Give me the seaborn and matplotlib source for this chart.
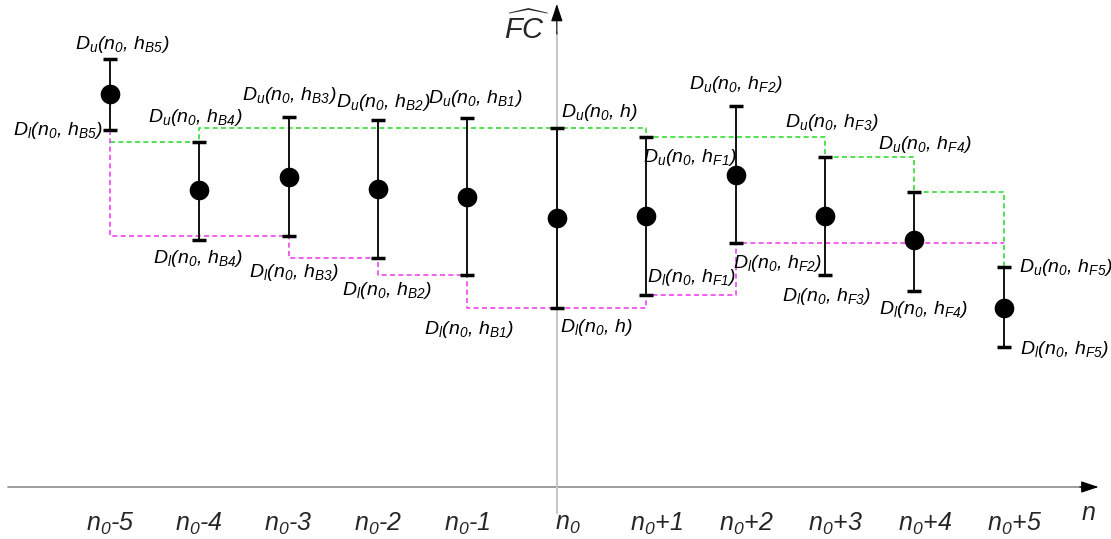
import numpy as np
import pandas as pd
import matplotlib
matplotlib.use("Agg")
import matplotlib.pyplot as plt
import seaborn as sns

# ---------------- data ----------------
positions = [-5, -4, -3, -2, -1, 0, 1, 2, 3, 4, 5]
tick_suffix = ["-5", "-4", "-3", "-2", "-1", "", "+1", "+2", "+3", "+4", "+5"]
h_subs = ["B5", "B4", "B3", "B2", "B1", "", "F1", "F2", "F3", "F4", "F5"]
upper = [42.8, 34.5, 37.0, 36.7, 36.9, 35.9, 35.0, 38.1, 33.0, 29.5, 22.0]
lower = [35.7, 24.7, 25.1, 22.9, 21.2, 17.9, 19.2, 24.4, 21.2, 19.6, 14.0]
center = [39.3, 29.7, 31.0, 29.8, 29.0, 26.9, 27.1, 31.2, 27.1, 24.7, 17.9]

# step paths (x positions and index of the bound used)
green_x = [-5, -4, -4, 1, 1, 3, 3, 4, 4, 5, 5]
green_idx = [1, 1, 5, 5, 6, 6, 8, 8, 9, 9, 10]
magenta_x = [-5, -5, -3, -3, -2, -2, -1, -1, 1, 1, 2, 2, 5]
magenta_idx = [0, 2, 2, 3, 3, 4, 4, 5, 5, 6, 6, 7, 7]

# label offsets in pixels (dx, dy) relative to bar ends
du_off = [(12, 15), (-4, 25), (0, 22), (5, 18), (8, 20), (43, 16), (44, -20),
          (0, 22), (7, 35), (10, 48), (62, 0)]
dl_off = [(-52, 0), (-1, -18), (5, -36), (9, -32), (1, -54), (39, -19), (45, 17),
          (42, -20), (2, -21), (9, -18), (61, -3)]

df = pd.DataFrame({"pos": positions, "center": center, "upper": upper, "lower": lower})

# ---------------- style ----------------
sns.set_theme(style="white")
plt.rcParams["font.family"] = ["Liberation Sans", "DejaVu Sans"]
plt.rcParams["mathtext.fontset"] = "custom"
plt.rcParams["mathtext.it"] = "Liberation Sans:italic"
plt.rcParams["mathtext.rm"] = "Liberation Sans:italic"
plt.rcParams["mathtext.sf"] = "Liberation Sans:italic"
plt.rcParams["mathtext.bf"] = "Liberation Sans:italic:bold"

fig = plt.figure(figsize=(11.11, 5.39), dpi=100)
ax = fig.add_axes([0, 0, 1, 1])
ax.set_xlim(-6.23, 6.20)
ax.set_ylim(-5.2, 48.7)
ax.axis("off")

# axes with arrows
ax.plot([-6.14, 6.0], [0, 0], color="#8c8c8c", lw=1.2, zorder=1)
ax.annotate("", xy=(6.06, 0), xytext=(5.85, 0),
            arrowprops=dict(arrowstyle="-|>,head_length=0.9,head_width=0.3",
                            color="black", lw=0.8, shrinkA=0, shrinkB=0))
ax.plot([0, 0], [-2.6, 45.5], color="#c8c8c8", lw=1.5, zorder=1)
ax.annotate("", xy=(0, 48.3), xytext=(0, 45.3),
            arrowprops=dict(arrowstyle="-|>,head_length=0.9,head_width=0.3",
                            color="black", lw=0.8, shrinkA=0, shrinkB=0))

# dashed step lines
ax.plot(green_x, [upper[i] for i in green_idx], color="#33dd33", lw=1.2,
        linestyle=(0, (3, 2)), zorder=2)
ax.plot(magenta_x, [lower[i] for i in magenta_idx], color="#ee44ee", lw=1.2,
        linestyle=(0, (3, 2)), zorder=2)

# error bars
yerr = [np.array(center) - np.array(lower), np.array(upper) - np.array(center)]
ax.errorbar(positions, center, yerr=yerr, fmt="none", ecolor="black",
            elinewidth=1.3, capsize=5, capthick=2.5, zorder=3)
sns.scatterplot(data=df, x="pos", y="center", color="black", s=200,
                edgecolor="black", linewidth=0, ax=ax, zorder=4, legend=False)

# bound labels
for i, p in enumerate(positions):
    hs = f"h$_{{{h_subs[i]}}}$" if h_subs[i] else "h"
    ax.annotate(f"D$_u$(n$_0$, {hs})", xy=(p, upper[i]), xytext=du_off[i],
                textcoords="offset pixels", ha="center", va="center",
                fontsize=14, style="italic", color="black")
    ax.annotate(f"D$_l$(n$_0$, {hs})", xy=(p, lower[i]), xytext=dl_off[i],
                textcoords="offset pixels", ha="center", va="center",
                fontsize=14, style="italic", color="black")

# tick labels
for p, suf in zip(positions, tick_suffix):
    off = 0.12 if p >= 0 else 0.0
    ax.text(p + off, -3.7, "n$_0$" + suf, ha="center", va="center",
            fontsize=18, style="italic")

ax.text(5.95, -2.6, "n", ha="center", va="center", fontsize=18, style="italic")
ax.text(-0.34, 45.9, r"$\widehat{FC}$", ha="center", va="center", fontsize=21)

fig.savefig("out.png", dpi=100)
